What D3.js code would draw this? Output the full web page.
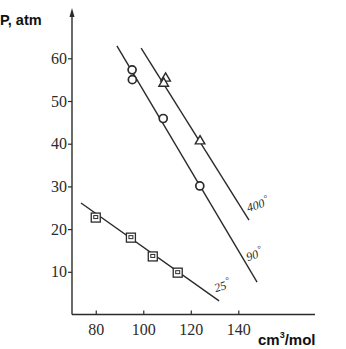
<!DOCTYPE html>
<html>
<head>
<meta charset="UTF-8">
<title></title>
<style>
  body { margin: 0; background: #fff; }
  svg { display: block; }
</style>
</head>
<body>
<div id="chart"></div>
<script src="https://d3js.org/d3.v7.min.js"></script>
<script>
// data
var xTicks = [80, 100, 120, 140];
var yTicks = [10, 20, 30, 40, 50, 60];

// fitted lines (start / end points)
var line25 = [{x: 73.8, y: 26.1}, {x: 131.9, y: 3.2}];
var line90 = [{x: 88.9, y: 62.9}, {x: 147.9, y: 7.6}];
var line400 = [{x: 99.1, y: 62.4}, {x: 144.5, y: 22.1}];

// measured points
var pts25 = [{x: 80, y: 22.7}, {x: 94.8, y: 18}, {x: 104, y: 13.6}, {x: 114.5, y: 9.8}];
var pts90 = [{x: 95.3, y: 57.3}, {x: 95.4, y: 55}, {x: 108.4, y: 45.9}, {x: 123.8, y: 30.1}];
var pts400 = [{x: 109.4, y: 55.3}, {x: 108.6, y: 54.1}, {x: 123.9, y: 40.6}];

var labels = [
  {text: "400", x: 144.2, y: 24},
  {text: "90", x: 144, y: 12.5},
  {text: "25", x: 130.5, y: 5.2}
];

var width = 346, height = 349;
var ink = "#2b2b2b";

var svg = d3.select("#chart").append("svg")
  .attr("width", width)
  .attr("height", height);

var x = d3.scaleLinear().domain([70, 140]).range([72, 238.3]);
var y = d3.scaleLinear().domain([0, 60]).range([314.5, 58.3]);

// axes lines
svg.append("line")
  .attr("x1", 72).attr("y1", 314.5).attr("x2", 315).attr("y2", 314.5)
  .attr("stroke", ink).attr("stroke-width", 1.4);
svg.append("line")
  .attr("x1", 72).attr("y1", 314.5).attr("x2", 72).attr("y2", 12)
  .attr("stroke", ink).attr("stroke-width", 1.4);
svg.append("path")
  .attr("d", "M72,8 L69.5,17 L74.5,17 Z")
  .attr("fill", ink);

var yAxis = d3.axisLeft(y).tickValues(yTicks).tickSize(4).tickPadding(1);
var gy = svg.append("g").attr("transform", "translate(72,0)").call(yAxis);
gy.select(".domain").remove();
gy.selectAll("line").attr("stroke", ink).attr("stroke-width", 1.2);
gy.selectAll("text")
  .attr("font-family", "Liberation Serif, Times New Roman, serif")
  .attr("font-size", "16px")
  .attr("fill", ink);

var xAxis = d3.axisBottom(x).tickValues(xTicks).tickSizeInner(-4).tickSizeOuter(0).tickPadding(9);
var gx = svg.append("g").attr("transform", "translate(0,314.5)").call(xAxis);
gx.select(".domain").remove();
gx.selectAll("line").attr("stroke", ink).attr("stroke-width", 1.2);
gx.selectAll("text")
  .attr("font-family", "Liberation Serif, Times New Roman, serif")
  .attr("font-size", "16px")
  .attr("fill", ink);

// fitted lines
var line = d3.line()
  .x(function(d) { return x(d.x); })
  .y(function(d) { return y(d.y); });

[line25, line90, line400].forEach(function(l) {
  svg.append("path")
    .datum(l)
    .attr("d", line)
    .attr("fill", "none")
    .attr("stroke", ink)
    .attr("stroke-width", 1.4);
});

// markers
svg.selectAll(".sq")
  .data(pts25)
  .join("g")
  .attr("class", "sq")
  .attr("transform", function(d) { return "translate(" + x(d.x) + "," + y(d.y) + ")"; })
  .each(function() {
    var g = d3.select(this);
    g.append("rect").attr("x", -4.5).attr("y", -4.5).attr("width", 9).attr("height", 9)
      .attr("fill", "#fff").attr("stroke", ink).attr("stroke-width", 1.3);
    g.append("rect").attr("x", -2).attr("y", -2).attr("width", 4).attr("height", 3)
      .attr("fill", "none").attr("stroke", ink).attr("stroke-width", 1);
  });

svg.selectAll(".ci")
  .data(pts90)
  .join("circle")
  .attr("class", "ci")
  .attr("cx", function(d) { return x(d.x); })
  .attr("cy", function(d) { return y(d.y); })
  .attr("r", 4)
  .attr("fill", "#fff")
  .attr("stroke", ink)
  .attr("stroke-width", 1.7);

var tri = d3.symbol().type(d3.symbolTriangle).size(40);
svg.selectAll(".tr")
  .data(pts400)
  .join("path")
  .attr("class", "tr")
  .attr("d", tri)
  .attr("transform", function(d) { return "translate(" + x(d.x) + "," + y(d.y) + ")"; })
  .attr("fill", "#fff")
  .attr("stroke", ink)
  .attr("stroke-width", 1.4);

// curve labels
var lab = svg.selectAll(".lab")
  .data(labels)
  .join("text")
  .attr("class", "lab")
  .attr("transform", function(d) { return "translate(" + x(d.x) + "," + y(d.y) + ") rotate(-18)"; })
  .attr("font-family", "Liberation Serif, Times New Roman, serif")
  .attr("font-style", "italic")
  .attr("font-size", "12px")
  .attr("fill", ink);
lab.append("tspan").text(function(d) { return d.text; });
lab.append("tspan").attr("dx", 1).attr("dy", -5).attr("font-size", "9px").text("°");

// axis titles
svg.append("text")
  .attr("x", 0).attr("y", 25)
  .attr("font-family", "Liberation Sans, Arial, sans-serif")
  .attr("font-weight", "bold")
  .attr("font-size", "14.5px")
  .attr("fill", "#111")
  .text("P, atm");

var t = svg.append("text")
  .attr("x", 258).attr("y", 345)
  .attr("font-family", "Liberation Sans, Arial, sans-serif")
  .attr("font-weight", "bold")
  .attr("font-size", "15px")
  .attr("fill", "#111");
t.append("tspan").text("cm");
t.append("tspan").attr("dy", -7).attr("font-size", "9px").text("3");
t.append("tspan").attr("dy", 7).text("/mol");
</script>
</body>
</html>
